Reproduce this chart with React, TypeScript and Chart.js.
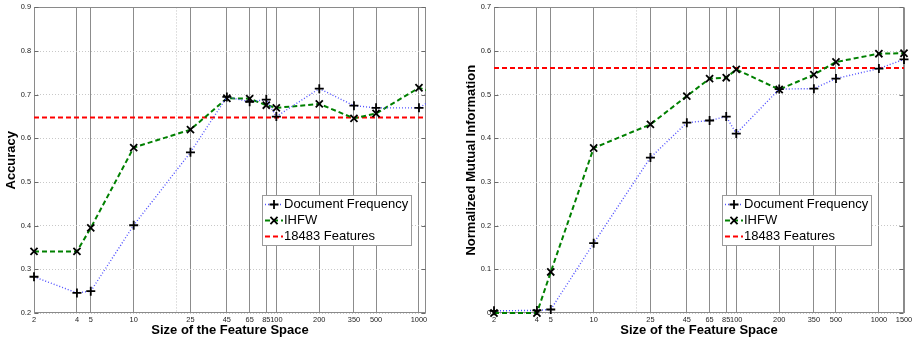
import React, { useEffect, useRef } from 'react';
import { Chart, registerables } from 'chart.js';

Chart.register(...registerables);

// ---------- data ----------
const featureSizes = [2, 4, 5, 10, 25, 45, 65, 85, 100, 200, 350, 500, 1000, 1500];
const accuracyDF = [0.283, 0.246, 0.25, 0.401, 0.568, 0.695, 0.684, 0.689, 0.65, 0.714, 0.675, 0.67, 0.67, 0.705];
const accuracyIHFW = [0.341, 0.341, 0.395, 0.579, 0.62, 0.692, 0.691, 0.676, 0.67, 0.679, 0.646, 0.657, 0.716, 0.698];
const accuracyAllFeatures = 0.648;
const nmiDF = [0.005, 0.006, 0.008, 0.16, 0.356, 0.436, 0.441, 0.45, 0.411, 0.513, 0.514, 0.537, 0.56, 0.581];
const nmiIHFW = [0.0, 0.0, 0.094, 0.378, 0.432, 0.497, 0.537, 0.539, 0.558, 0.512, 0.546, 0.575, 0.594, 0.595];
const nmiAllFeatures = 0.561;
const leftXTicks = [2, 4, 5, 10, 20, 25, 45, 65, 85, 100, 200, 350, 500, 1000];
const rightXTicks = [2, 4, 5, 10, 20, 25, 45, 65, 85, 100, 200, 350, 500, 1000, 1500];
const unlabeledXTicks = [20];
const seriesLabels = ['Document Frequency', 'IHFW', '18483 Features'];
const xTitle = 'Size of the Feature Space';
const leftYTitle = 'Accuracy';
const rightYTitle = 'Normalized Mutual Information';

const FONT = "'Liberation Sans', Arial, Helvetica, sans-serif";

function drawMarker(ctx: CanvasRenderingContext2D, style: string, x: number, y: number, r: number, lw: number) {
  ctx.save();
  ctx.strokeStyle = '#000';
  ctx.lineWidth = lw;
  ctx.setLineDash([]);
  ctx.beginPath();
  if (style === 'cross') {
    ctx.moveTo(x - r, y); ctx.lineTo(x + r, y);
    ctx.moveTo(x, y - r); ctx.lineTo(x, y + r);
  } else {
    const d = r * Math.SQRT1_2;
    ctx.moveTo(x - d, y - d); ctx.lineTo(x + d, y + d);
    ctx.moveTo(x + d, y - d); ctx.lineTo(x - d, y + d);
  }
  ctx.stroke();
  ctx.restore();
}

function framePlugin() {
  return {
    id: 'frame',
    beforeDatasetsDraw(chart: any) {
      const { ctx, chartArea } = chart;
      const l = Math.round(chartArea.left) + 0.5;
      const t = Math.round(chartArea.top) + 0.5;
      const r = Math.round(chartArea.right) - 0.5;
      const b = Math.round(chartArea.bottom) - 0.5;
      ctx.save();
      ctx.setLineDash([]);
      ctx.strokeStyle = '#8a8a8a';
      ctx.lineWidth = 1;
      ctx.strokeRect(l, t, r - l, b - t);
      const ys = chart.scales.y;
      ctx.strokeStyle = '#6a6a6a';
      ctx.beginPath();
      ys.ticks.forEach((tk: any) => {
        const py = Math.round(ys.getPixelForValue(tk.value)) + 0.5;
        ctx.moveTo(l, py); ctx.lineTo(l + 4, py);
        ctx.moveTo(r, py); ctx.lineTo(r - 4, py);
      });
      ctx.stroke();
      ctx.restore();
    },
  };
}

function legendPlugin(box: { x: number; y: number; w: number; h: number }) {
  return {
    id: 'boxLegend',
    afterDraw(chart: any) {
      const ctx: CanvasRenderingContext2D = chart.ctx;
      const { x, y, w, h } = box;
      ctx.save();
      ctx.setLineDash([]);
      ctx.fillStyle = '#ffffff';
      ctx.fillRect(x, y, w, h);
      ctx.strokeStyle = '#9a9a9a';
      ctx.lineWidth = 1;
      ctx.strokeRect(x + 0.5, y + 0.5, w, h);
      chart.data.datasets.forEach((ds: any, i: number) => {
        const cy = y + 9.5 + i * 16;
        ctx.save();
        ctx.strokeStyle = ds.borderColor;
        ctx.lineWidth = ds.borderWidth;
        ctx.setLineDash(ds.borderDash || []);
        ctx.beginPath();
        ctx.moveTo(x + 3, cy);
        ctx.lineTo(x + 21, cy);
        ctx.stroke();
        ctx.restore();
        if (ds.pointRadius > 0) drawMarker(ctx, ds.pointStyle, x + 12, cy, ds.pointRadius, ds.pointBorderWidth);
        ctx.fillStyle = '#000';
        ctx.font = `13px ${FONT}`;
        ctx.textBaseline = 'middle';
        ctx.textAlign = 'left';
        ctx.fillText(ds.label, x + 22, cy);
      });
      ctx.restore();
    },
  };
}

type PanelOpts = {
  yTitle: string;
  df: number[];
  ihfw: number[];
  base: number;
  yMin: number;
  yMax: number;
  xMax: number;
  xTicks: number[];
  padRight: number;
  yWidth: number;
  yTitlePad: number;
  clip: any;
  legend: { x: number; y: number; w: number; h: number };
};

function makeConfig(o: PanelOpts): any {
  const pts = (vals: number[]) => featureSizes.map((x, i) => ({ x, y: vals[i] }));
  return {
    type: 'line',
    data: {
      datasets: [
        {
          label: seriesLabels[0],
          data: pts(o.df),
          borderColor: 'rgb(80,80,255)',
          borderWidth: 1.4,
          borderDash: [1, 2],
          pointStyle: 'cross',
          pointRadius: 4.5,
          pointBorderWidth: 1.8,
          pointBorderColor: '#000',
          pointBackgroundColor: '#000',
          fill: false,
          tension: 0,
          clip: o.clip,
        },
        {
          label: seriesLabels[1],
          data: pts(o.ihfw),
          borderColor: '#008000',
          borderWidth: 2,
          borderDash: [5, 3],
          pointStyle: 'crossRot',
          pointRadius: 5,
          pointBorderWidth: 1.8,
          pointBorderColor: '#000',
          pointBackgroundColor: '#000',
          fill: false,
          tension: 0,
          clip: o.clip,
        },
        {
          label: seriesLabels[2],
          data: [
            { x: featureSizes[0], y: o.base },
            { x: featureSizes[featureSizes.length - 1], y: o.base },
          ],
          borderColor: '#ff0000',
          borderWidth: 2,
          borderDash: [5, 3],
          pointRadius: 0,
          fill: false,
          clip: o.clip,
        },
      ],
    },
    options: {
      animation: false,
      responsive: false,
      events: [],
      layout: { padding: { left: 0, right: o.padRight, top: 5, bottom: 0 } },
      plugins: { legend: { display: false }, tooltip: { enabled: false } },
      scales: {
        x: {
          type: 'logarithmic',
          min: 2,
          max: o.xMax,
          afterBuildTicks: (s: any) => {
            s.ticks = o.xTicks.map((v) => ({ value: v }));
          },
          afterFit: (s: any) => {
            s.height = 31;
          },
          ticks: {
            autoSkip: false,
            maxRotation: 0,
            minRotation: 0,
            padding: 2.5,
            color: '#222',
            font: { family: FONT, size: 7.4 },
            callback: (v: any) => (unlabeledXTicks.includes(Number(v)) ? '' : String(v)),
          },
          grid: {
            drawTicks: false,
            lineWidth: 1,
            color: (c: any) => (c.tick && unlabeledXTicks.includes(c.tick.value) ? '#c4c4c4' : '#8c8c8c'),
          },
          border: {
            display: false,
            dash: (c: any) => (c.tick && unlabeledXTicks.includes(c.tick.value) ? [1, 2] : []),
          },
          title: {
            display: true,
            text: xTitle,
            color: '#000',
            font: { family: FONT, size: 13, weight: 'bold' },
            padding: { top: 0, bottom: 6 },
          },
        },
        y: {
          type: 'linear',
          min: o.yMin,
          max: o.yMax,
          afterFit: (s: any) => {
            s.width = o.yWidth;
          },
          ticks: {
            stepSize: 0.1,
            padding: 3,
            color: '#222',
            font: { family: FONT, size: 7.4 },
            callback: (v: any) => {
              const r = Math.round(Number(v) * 10) / 10;
              return r === 0 ? '0' : r.toFixed(1);
            },
          },
          grid: { drawTicks: false, lineWidth: 1, color: '#c8c8c8' },
          border: { display: false, dash: [1, 2] },
          title: {
            display: true,
            text: o.yTitle,
            color: '#000',
            font: { family: FONT, size: 13, weight: 'bold' },
            padding: { top: o.yTitlePad, bottom: 0 },
          },
        },
      },
    },
    plugins: [framePlugin(), legendPlugin(o.legend)],
  };
}

function Panel({ left, width, opts }: { left: number; width: number; opts: PanelOpts }) {
  const ref = useRef<HTMLCanvasElement | null>(null);
  useEffect(() => {
    if (!ref.current) return;
    const chart = new Chart(ref.current, makeConfig(opts));
    return () => chart.destroy();
  }, []);
  return (
    <canvas
      ref={ref}
      width={width}
      height={344}
      style={{ position: 'absolute', left, top: 0, width, height: 344, display: 'block' }}
    />
  );
}

export default function App() {
  return (
    <div style={{ position: 'absolute', left: 0, top: 0, width: 919, height: 344, background: '#fff', overflow: 'hidden' }}>
      <Panel
        left={0}
        width={459}
        opts={{
          yTitle: leftYTitle,
          df: accuracyDF,
          ihfw: accuracyIHFW,
          base: accuracyAllFeatures,
          yMin: 0.2,
          yMax: 0.9,
          xMax: 1120,
          xTicks: leftXTicks,
          padRight: 33,
          yWidth: 34,
          yTitlePad: 4,
          clip: { left: 8, top: 8, bottom: 8, right: 0 },
          legend: { x: 262, y: 195, w: 149, h: 50 },
        }}
      />
      <Panel
        left={459}
        width={460}
        opts={{
          yTitle: rightYTitle,
          df: nmiDF,
          ihfw: nmiIHFW,
          base: nmiAllFeatures,
          yMin: 0,
          yMax: 0.7,
          xMax: 1500,
          xTicks: rightXTicks,
          padRight: 15,
          yWidth: 35,
          yTitlePad: 5,
          clip: false,
          legend: { x: 263, y: 195, w: 149, h: 50 },
        }}
      />
    </div>
  );
}
